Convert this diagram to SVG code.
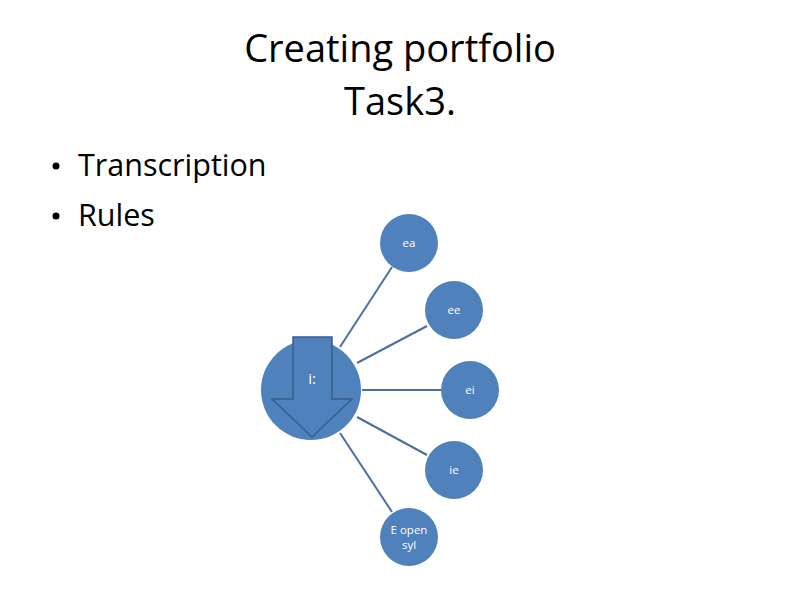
<svg xmlns="http://www.w3.org/2000/svg" width="800" height="600" viewBox="0 0 800 600">
<style>
.t{font-family:"Open Sans","Liberation Sans",sans-serif;fill:#000}
.n{fill:#4F81BD}
.l{font-family:"Open Sans","Liberation Sans",sans-serif;fill:#fff;font-size:11.5px;text-anchor:middle}
.c line{stroke:#4A6FA0;stroke-width:2}
</style>
<rect width="800" height="600" fill="#fff"/>
<text class="t" x="400" y="62" font-size="38" text-anchor="middle">Creating portfolio</text>
<text class="t" x="400" y="115" font-size="38" text-anchor="middle">Task3.</text>
<circle cx="56" cy="166" r="3.5" fill="#000"/>
<text class="t" x="78" y="176" font-size="30.5">Transcription</text>
<circle cx="56" cy="216" r="3.5" fill="#000"/>
<text class="t" x="78" y="226" font-size="30.5">Rules</text>
<g class="c">
<line x1="340" y1="347" x2="392" y2="267"/>
<line x1="357" y1="363" x2="427" y2="326"/>
<line x1="362" y1="390" x2="441" y2="390"/>
<line x1="357" y1="417" x2="427" y2="455"/>
<line x1="340" y1="433" x2="392" y2="512"/>
</g>
<g id="center">
<circle class="n" cx="311" cy="390" r="50"/>
<path d="M293 337 H332 V399 H352 L312 437 L272 399 H293 Z" fill="#4F81BD" stroke="#385D8A" stroke-width="1.5"/>
<text class="l" x="312" y="384" style="font-size:15px">i:</text>
</g>
<g id="ea"><circle class="n" cx="409" cy="243" r="29"/><text class="l" x="409" y="247">ea</text></g>
<g id="ee"><circle class="n" cx="454" cy="310" r="29"/><text class="l" x="454" y="314">ee</text></g>
<g id="ei"><circle class="n" cx="470" cy="390" r="29"/><text class="l" x="470" y="394">ei</text></g>
<g id="ie"><circle class="n" cx="454" cy="470" r="29"/><text class="l" x="454" y="474">ie</text></g>
<g id="eopen"><circle class="n" cx="409" cy="537" r="29"/><text class="l" x="409" y="534">E open</text><text class="l" x="409" y="549">syl</text></g>
</svg>
